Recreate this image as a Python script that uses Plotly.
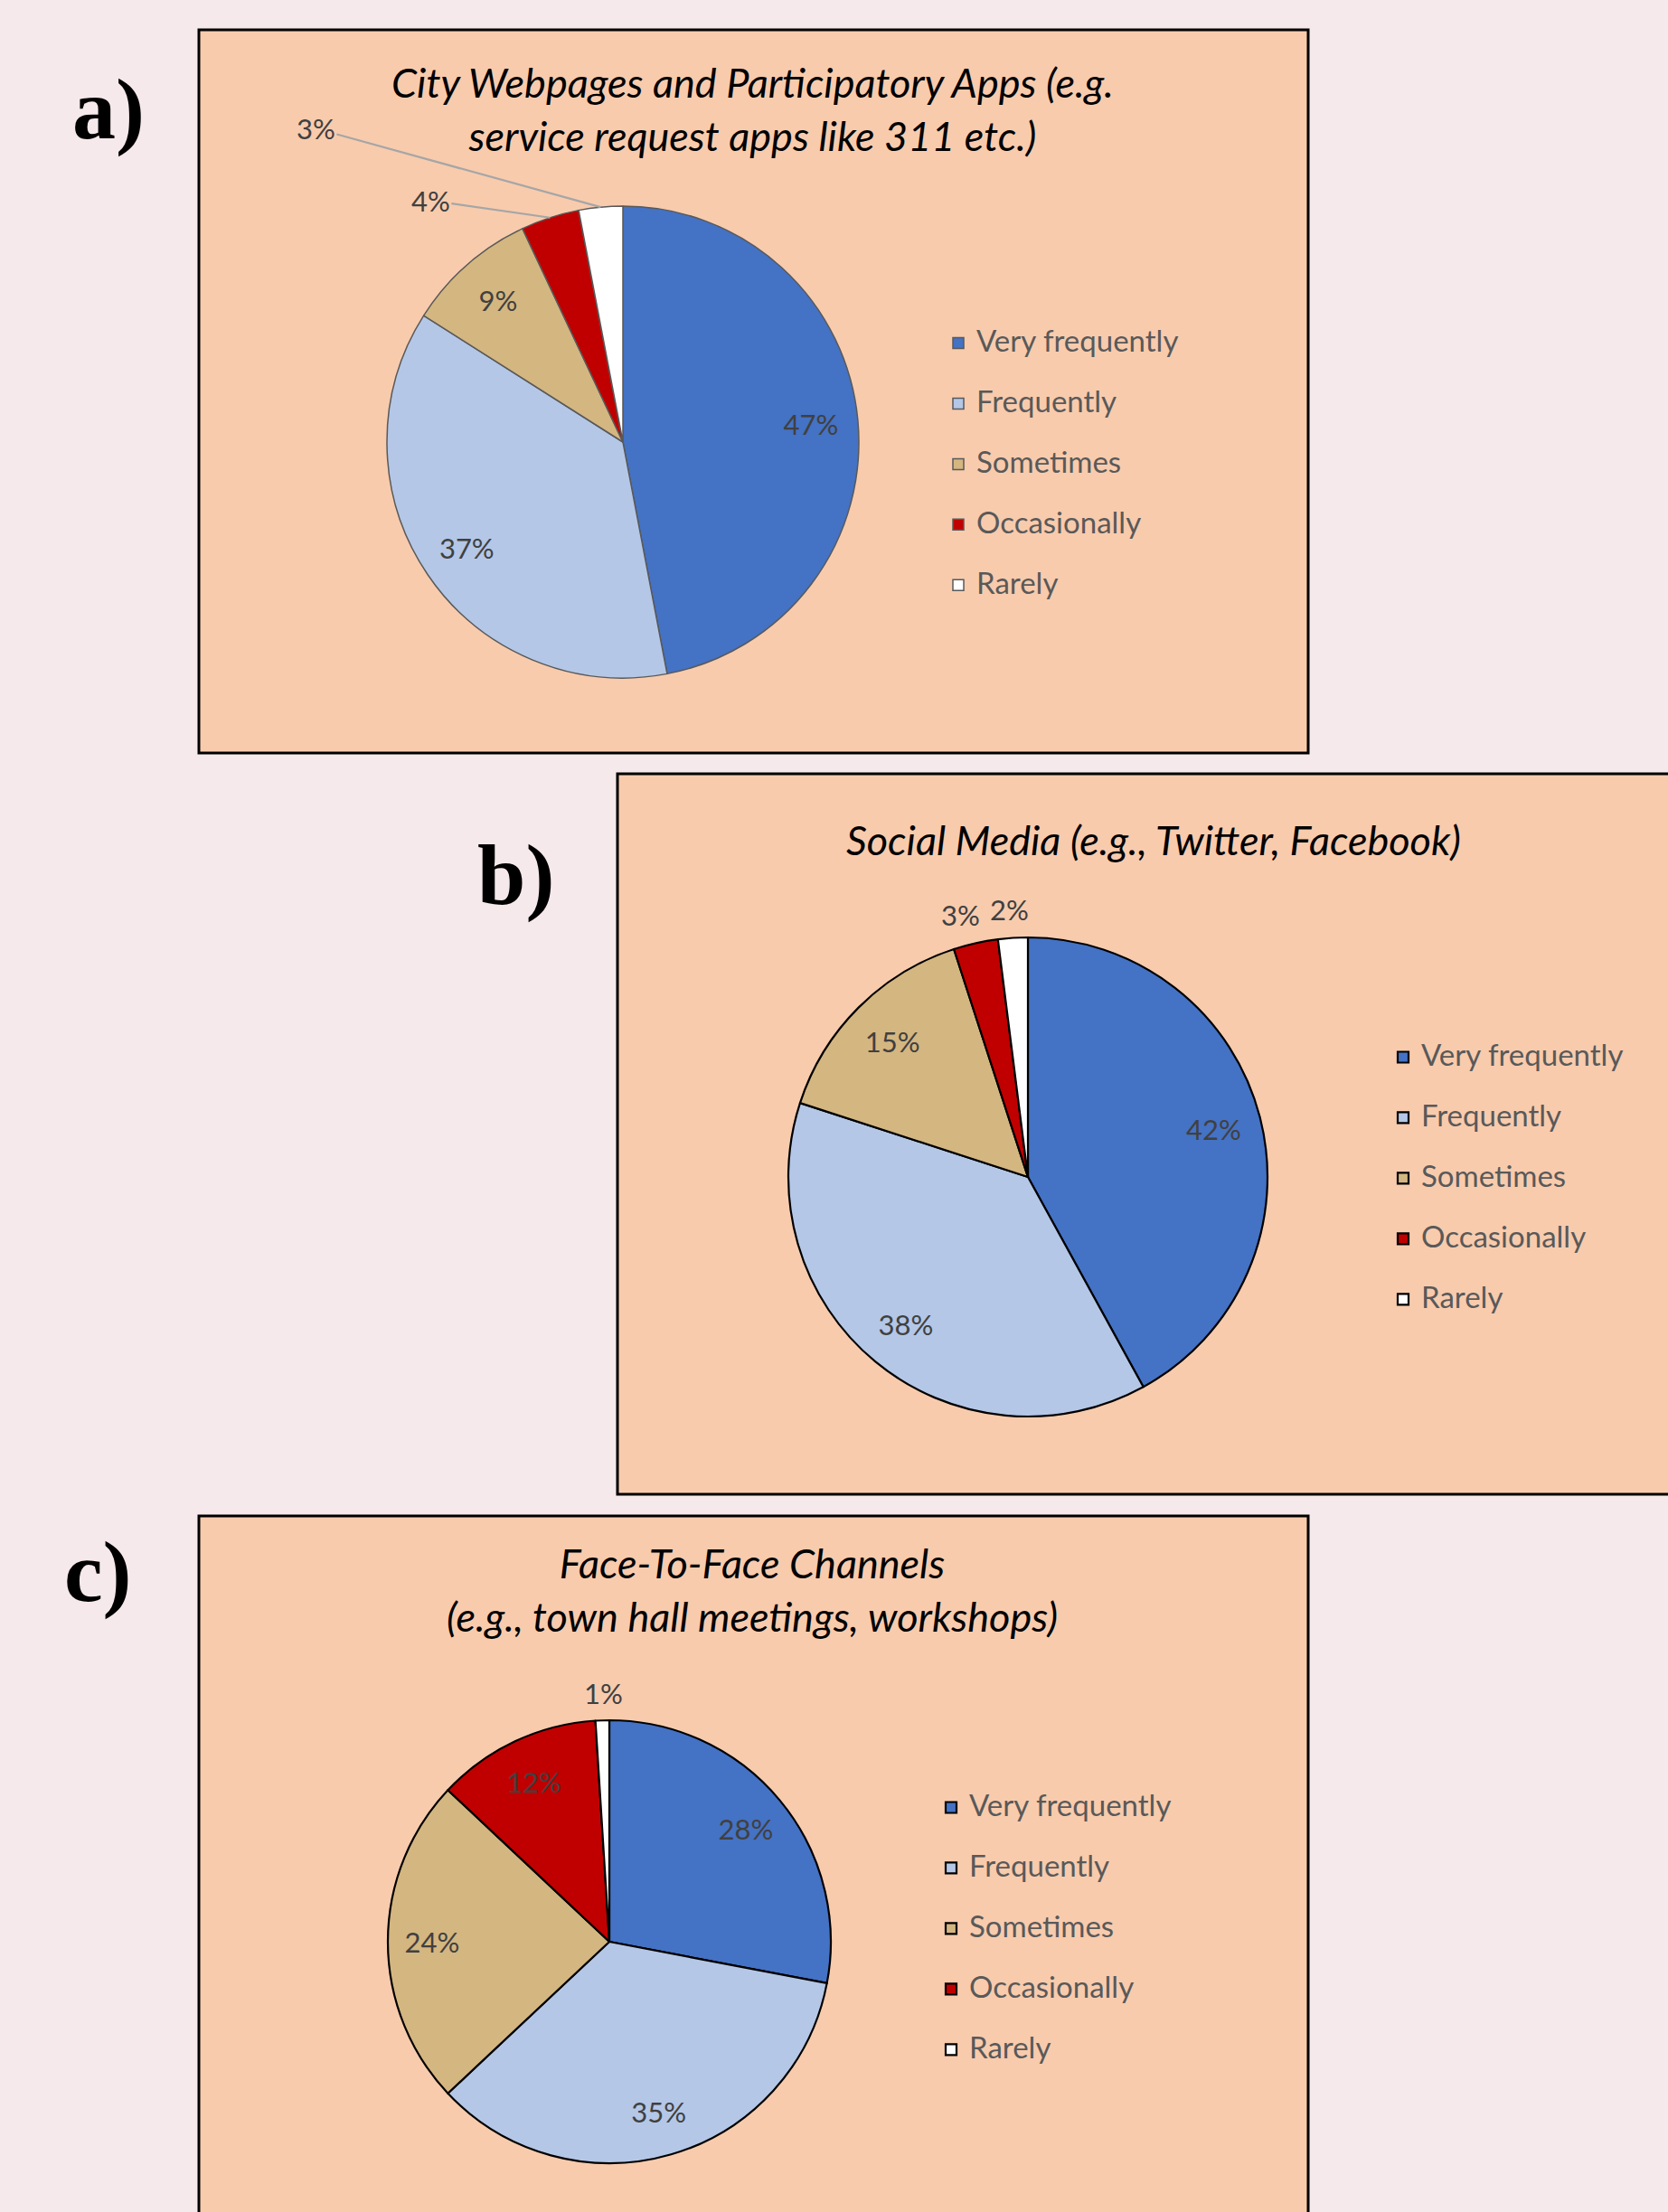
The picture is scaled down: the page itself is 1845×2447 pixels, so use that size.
import math
import plotly.graph_objects as go

# ---------------- data ----------------
categories = ["Very frequently", "Frequently", "Sometimes", "Occasionally", "Rarely"]
values_a = [47, 37, 9, 4, 3]
values_b = [42, 38, 15, 3, 2]
values_c = [28, 35, 24, 12, 1]
title_a = "City Webpages and Participatory Apps (e.g.<br>service request apps like 311 etc.)"
title_b = "Social Media (e.g., Twitter, Facebook)"
title_c = "Face-To-Face Channels<br>(e.g., town hall meetings, workshops)"
tags = ["a)", "b)", "c)"]
slice_colors = ["#4472C4", "#B4C7E7", "#D4B680", "#C00000", "#FFFFFF"]

# ---------------- layout helpers ----------------
W, H = 1845, 2447
PANEL_BG = "#F8CBAD"
PAGE_BG = "#F6E9EB"
LABEL_FONT = dict(family="Lato", size=31, color="#404040")


def fx(x):
    return x / W


def fy(y):
    return 1 - y / H


def domain(cx, cy, r):
    return dict(x=[fx(cx - r), fx(cx + r)], y=[fy(cy + r), fy(cy - r)])


def legend_label(name):
    return '<span style="font-size:33px">' + name + '</span><br>\u00a0'


def slice_edge(values, i, cx, cy, r):
    tot = sum(values)
    frac = (sum(values[:i]) + values[i] / 2) / tot
    ang = 2 * math.pi * frac
    return cx + r * math.sin(ang), cy - r * math.cos(ang)


panels = [
    dict(values=values_a, title=title_a, tag=tags[0], cx=689, cy=489, r=261,
         box=(220, 33, 1447, 833), line_color="#595959", line_width=1.5,
         textpos=["inside", "inside", "inside", "none", "none"],
         small={3: (-132, -19), 4: (-315, -87)}, leader=True,
         title_xy=(832, 121), tag_xy=(120, 121), legend_xy=(1040, 357), legend="legend"),
    dict(values=values_b, title=title_b, tag=tags[1], cx=1137, cy=1302, r=265,
         box=(683, 856, 1870, 1653), line_color="#000000", line_width=2.2,
         textpos=["inside", "inside", "inside", "none", "none"],
         small={3: (-17, -31), 4: (-4, -32)}, leader=False,
         title_xy=(1276, 929), tag_xy=(570, 967), legend_xy=(1532, 1147), legend="legend2"),
    dict(values=values_c, title=title_c, tag=tags[2], cx=674, cy=2148, r=245,
         box=(220, 1677, 1447, 2480), line_color="#000000", line_width=2.2,
         textpos=["inside", "inside", "inside", "inside", "none"],
         small={4: (1, -30)}, leader=False,
         title_xy=(832, 1758), tag_xy=(108, 1738), legend_xy=(1032, 1977), legend="legend3"),
]

fig = go.Figure()
shapes = []
annotations = []
legends = {}

for k, p in enumerate(panels):
    dom = domain(p["cx"], p["cy"], p["r"])
    labels = [legend_label(c) for c in categories]
    group = "panel" + str(k)
    # the pie itself
    fig.add_trace(go.Pie(
        values=p["values"], labels=labels, sort=False, direction="clockwise", rotation=0,
        marker=dict(colors=slice_colors, line=dict(color=p["line_color"], width=p["line_width"])),
        textinfo="none", domain=dom, legend=p["legend"], legendgroup=group, showlegend=True,
        hovertemplate="%{value}%<extra></extra>",
    ))
    # transparent ring carrying the percentage labels (places them at ~0.8 r like Excel)
    fig.add_trace(go.Pie(
        values=p["values"], labels=labels, sort=False, direction="clockwise", rotation=0,
        hole=0.6, marker=dict(colors=["rgba(0,0,0,0)"] * len(categories), line=dict(width=0)),
        texttemplate="%{value}%", textposition=p["textpos"],
        insidetextorientation="horizontal",
        insidetextfont=LABEL_FONT, outsidetextfont=LABEL_FONT,
        domain=dom, showlegend=False, hoverinfo="skip", legend=p["legend"], legendgroup=group,
    ))
    x0, y0, x1, y1 = p["box"]
    shapes.append(dict(type="rect", xref="paper", yref="paper", x0=fx(x0), x1=fx(x1),
                       y0=fy(y1), y1=fy(y0), fillcolor=PANEL_BG,
                       line=dict(color="#000000", width=3), layer="below"))
    annotations.append(dict(text=p["title"], x=fx(p["title_xy"][0]), y=fy(p["title_xy"][1]),
                            xref="paper", yref="paper", showarrow=False,
                            xanchor="center", yanchor="middle",
                            font=dict(family="Lato", size=45, color="#000000", style="italic")))
    annotations.append(dict(text=p["tag"], x=fx(p["tag_xy"][0]), y=fy(p["tag_xy"][1]),
                            xref="paper", yref="paper", showarrow=False,
                            xanchor="center", yanchor="middle",
                            font=dict(family="Liberation Serif", size=96, color="#000000",
                                      weight="bold")))
    legends[p["legend"]] = dict(
        x=fx(p["legend_xy"][0]), y=fy(p["legend_xy"][1]), xanchor="left", yanchor="top",
        bgcolor="rgba(0,0,0,0)", borderwidth=0, valign="top", tracegroupgap=0,
        font=dict(family="Lato", size=24.6, color="#595959"),
    )
    # labels of the thin slices, placed just outside the slice edge
    for i, (dx, dy) in p["small"].items():
        ex, ey = slice_edge(p["values"], i, p["cx"], p["cy"], p["r"])
        txt = f"{p['values'][i]}%"
        if p["leader"]:
            annotations.append(dict(text=txt, x=fx(ex), y=fy(ey), xref="paper", yref="paper",
                                    showarrow=True, arrowhead=0, arrowwidth=2.2,
                                    arrowcolor="#A6A6A6", ax=dx, ay=dy, standoff=0,
                                    font=LABEL_FONT))
        else:
            annotations.append(dict(text=txt, x=fx(ex), y=fy(ey), xref="paper", yref="paper",
                                    showarrow=False, xshift=dx, yshift=-dy,
                                    xanchor="center", yanchor="middle", font=LABEL_FONT))

fig.update_layout(
    width=W, height=H, autosize=False,
    margin=dict(l=0, r=0, t=0, b=0),
    paper_bgcolor=PAGE_BG, plot_bgcolor=PAGE_BG,
    shapes=shapes, annotations=annotations,
    **legends,
)

fig.write_html("out.html", config={"displayModeBar": False},
               post_script="document.body.style.margin='0';")
